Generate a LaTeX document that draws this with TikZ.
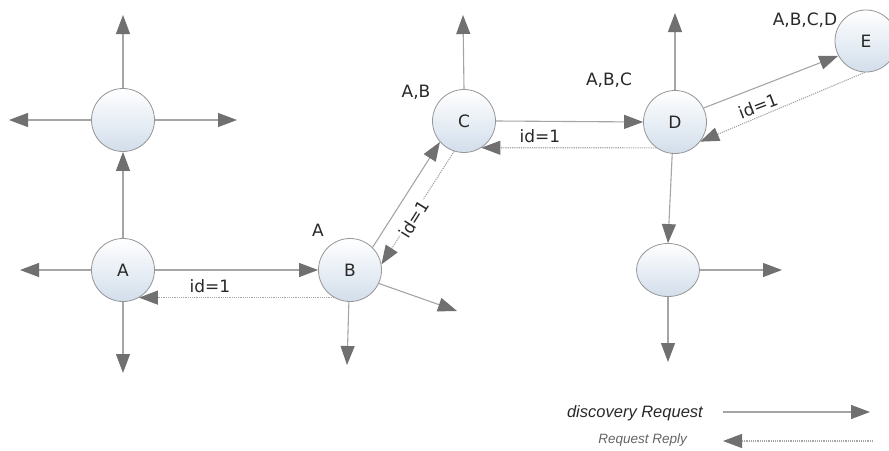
\documentclass[tikz,border=0pt]{standalone}
\usepackage{fontspec}
\setmainfont{DejaVu Sans}
\newfontfamily\legendfont{Liberation Sans}
\usetikzlibrary{arrows.meta,shapes.geometric}
\definecolor{linegray}{RGB}{165,165,165}
\definecolor{tipgray}{RGB}{112,112,112}
\definecolor{nodeedge}{RGB}{150,150,150}
\definecolor{nodebottom}{RGB}{210,222,235}
\definecolor{txt}{RGB}{40,40,40}
\tikzset{
  netnode/.style={circle, draw=nodeedge, line width=0.8pt, minimum size=63pt, inner sep=0pt,
    top color=white, bottom color=nodebottom, font=\fontsize{17}{17}\selectfont, text=txt},
  req/.style={draw=linegray, line width=1.1pt,
    -{Triangle[length=19pt,width=14pt,fill=tipgray,color=tipgray]}},
  rep/.style={draw=linegray, line width=1.1pt, dash pattern=on 1.2pt off 1pt,
    -{Triangle[length=19pt,width=14pt,fill=tipgray,color=tipgray]}},
  lbl/.style={font=\fontsize{17}{17}\selectfont, text=txt, inner sep=0pt},
}
\begin{document}
\begin{tikzpicture}[x=1pt,y=-1pt]
\useasboundingbox (0,0) rectangle (889,450);
% nodes
\node[netnode] (N) at (123,120) {};
\node[netnode] (A) at (123,270) {A};
\node[netnode] (B) at (350,270) {B};
\node[netnode] (C) at (464,121) {C};
\node[netnode] (D) at (675,122) {D};
\node[netnode, minimum size=62pt] (E) at (866,41) {E};
\node[ellipse, draw=nodeedge, line width=0.8pt, minimum width=63pt, minimum height=53pt,
  inner sep=0pt, top color=white, bottom color=nodebottom] (F) at (668,270) {};
% free ends
\coordinate (Nup) at (123,15);
\coordinate (Nleft) at (9,120);
\coordinate (Nright) at (237,120);
\coordinate (Aleft) at (20,270);
\coordinate (Adown) at (123,373);
\coordinate (Bdown) at (347,365);
\coordinate (Bright) at (457,311);
\coordinate (Cup) at (463,15);
\coordinate (Dup) at (675,13);
\coordinate (Fright) at (782,270);
\coordinate (Fdown) at (668,362);
% connectors
\draw[req] (N.north) -- (Nup);
\draw[req] (N.west) -- (Nleft);
\draw[req] (N.east) -- (Nright);
\draw[req] (A.north) -- (N.south);
\draw[req] (A.west) -- (Aleft);
\draw[req] (A.south) -- (Adown);
\draw[req] (A.east) -- (B.west);
\draw[rep] (B.-120) -- (A.-60);
\draw[req] (B.-92) -- (Bdown);
\draw[req] (B.-25) -- (Bright);
\draw[req] (B.45) -- (C.221);
\draw[rep] (C.252) -- (B.10);
\draw[req] (C.north) -- (Cup);
\draw[req] (C.0) -- (D.180);
\draw[rep] (D.-126) -- (C.-57);
\draw[req] (D.north) -- (Dup);
\draw[req] (D.26) -- (E.208);
\draw[rep] (E.268) -- (D.-38);
\draw[req] (D.-95) -- (F.north);
\draw[req] (F.east) -- (Fright);
\draw[req] (F.south) -- (Fdown);
% labels
\node[lbl] (lA) at (318,230) {A};
\node[lbl] (lAB) at (416,92) {A,B};
\node[lbl] (lABC) at (609,80) {A,B,C};
\node[lbl] (lABCD) at (805,20) {A,B,C,D};
\node[lbl] (id1) at (210,286) {id=1};
\node[lbl, rotate=58, fill=white, inner sep=1pt] (id2) at (414,219) {id=1};
\node[lbl] (id3) at (540,136) {id=1};
\node[lbl, rotate=21] (id4) at (758,106) {id=1};
% legend
\node[inner sep=0pt, font=\legendfont\itshape\fontsize{16.5}{16.5}\selectfont, text=txt, anchor=east] (leg1) at (703,413) {discovery Request};
\node[inner sep=0pt, font=\legendfont\itshape\fontsize{13.5}{13.5}\selectfont, text={rgb,255:red,100;green,100;blue,100}, anchor=east] (leg2) at (687,440) {Request Reply};
\coordinate (l1a) at (723,412);
\coordinate (l1b) at (870,412);
\coordinate (l2a) at (873,441);
\coordinate (l2b) at (723,441);
\draw[req] (l1a) -- (l1b);
\draw[rep] (l2a) -- (l2b);
\end{tikzpicture}
\end{document}
